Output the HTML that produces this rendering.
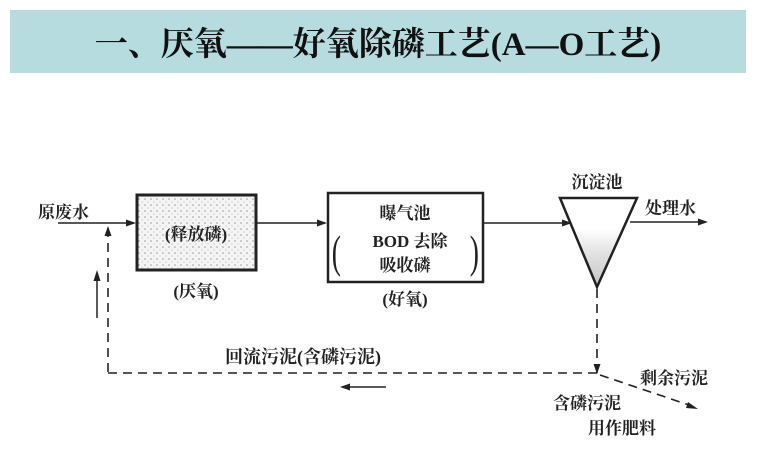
<!DOCTYPE html>
<html><head><meta charset="utf-8"><style>
html,body{margin:0;padding:0;background:#fff;width:759px;height:472px;overflow:hidden}
</style></head><body>
<svg width="759" height="472" xmlns="http://www.w3.org/2000/svg">
<defs>
<pattern id="dots" width="6" height="6" patternUnits="userSpaceOnUse">
<rect width="6" height="6" fill="#f4f4f4"/>
<circle cx="1" cy="1" r="0.8" fill="#999"/><circle cx="4" cy="4" r="0.6" fill="#bbb"/>
</pattern>
<linearGradient id="sed" x1="0" y1="0" x2="0" y2="1"><stop offset="0.35" stop-color="#fff"/><stop offset="0.6" stop-color="#e4e4e4"/><stop offset="1" stop-color="#c4c4c4"/></linearGradient>
</defs>
<rect x="10" y="10" width="736" height="63" fill="#b6dce0"/>
<text x="378" y="55" text-anchor="middle" font-family="'Liberation Serif','Noto Serif CJK SC',serif" font-weight="bold" font-size="33" fill="#111">一、厌氧——好氧除磷工艺(A—O工艺)</text>

<g stroke="#222" fill="none">
<rect x="137" y="195" width="119" height="75" fill="url(#dots)" stroke-width="3"/>
<rect x="328" y="193" width="155" height="89" stroke-width="2.5"/>
<polygon points="560,198 637,198 597,287" fill="url(#sed)" stroke-width="2.5"/>
<line x1="58" y1="223" x2="134" y2="223" stroke-width="1.5"/>
<line x1="256" y1="223" x2="325" y2="223" stroke-width="1.5"/>
<line x1="483" y1="223" x2="570" y2="223" stroke-width="1.5"/>
<line x1="630" y1="222" x2="700" y2="222" stroke-width="1.5"/>
<line x1="97" y1="278" x2="97" y2="318" stroke-width="1.5"/>
<g stroke-dasharray="9,6" stroke-width="1.6">
<line x1="108" y1="228" x2="108" y2="373"/>
<line x1="108" y1="373" x2="597" y2="373"/>
<line x1="597" y1="289" x2="597" y2="373"/>
<line x1="600" y1="375" x2="692" y2="406"/>
</g>
<line x1="350" y1="387" x2="386" y2="387" stroke-width="1.5"/>
</g>
<g fill="#222">
<polygon points="136,223 126,219.5 126,226.5"/>
<polygon points="327,223 317,219.5 317,226.5"/>
<polygon points="572,223 562,219.5 562,226.5"/>
<polygon points="708,222 698,218.5 698,225.5"/>
<polygon points="97,270 93.5,281 100.5,281"/>
<polygon points="108,226 104.5,236 111.5,236"/>
<polygon points="597,374 593.5,364 600.5,364"/>
<polygon points="698,409 688,402 686,408"/>
<polygon points="340,387 350,383.5 350,390.5"/>
</g>

<g font-family="'Liberation Serif','Noto Serif CJK SC',serif" font-size="17" fill="#222" font-weight="bold">
<text x="38" y="218">原废水</text>
<text x="196" y="240" text-anchor="middle">(释放磷)</text>
<text x="196" y="297" text-anchor="middle">(厌氧)</text>
<text x="405" y="219" text-anchor="middle">曝气池</text>
<text x="410" y="247" text-anchor="middle">BOD 去除</text>
<text x="405" y="271" text-anchor="middle">吸收磷</text>
<text x="405" y="305" text-anchor="middle">(好氧)</text>
<text x="597" y="188" text-anchor="middle">沉淀池</text>
<text x="645" y="214">处理水</text>
<text x="225" y="363" font-size="18">回流污泥(含磷污泥)</text>
<text x="640" y="384">剩余污泥</text>
<text x="553" y="409">含磷污泥</text>
<text x="588" y="434">用作肥料</text>
</g>
<g font-family="'Liberation Serif',serif" font-size="46" fill="#222">
<text x="332" y="267" transform="scale(0.6,1) translate(221,0)">(</text>
<text x="470" y="267" transform="scale(0.6,1) translate(313,0)">)</text>
</g>
</svg>
</body></html>
